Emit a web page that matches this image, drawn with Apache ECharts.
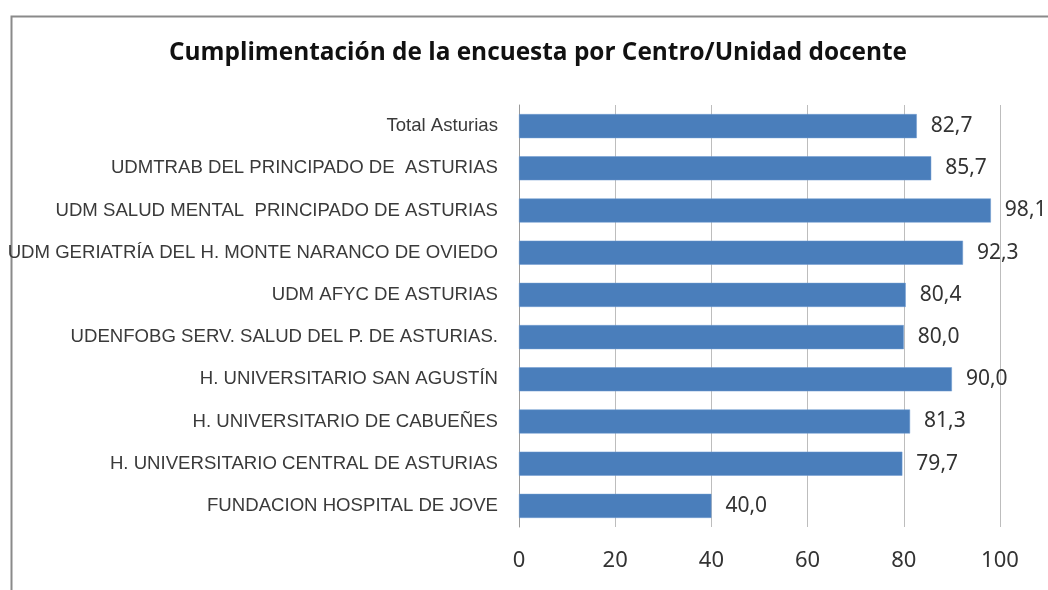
<!DOCTYPE html>
<html><head><meta charset="utf-8">
<script src="https://cdn.jsdelivr.net/npm/echarts@6/dist/echarts.min.js"></script>
<style>html,body{margin:0;padding:0;background:#fff}#c{width:1048px;height:590px}</style>
</head><body><div id="c"></div>
<script>
const titleText = 'Cumplimentación de la encuesta por Centro/Unidad docente';
const categories = [
  'Total Asturias',
  'UDMTRAB DEL PRINCIPADO DE  ASTURIAS',
  'UDM SALUD MENTAL  PRINCIPADO DE ASTURIAS',
  'UDM GERIATRÍA DEL H. MONTE NARANCO DE OVIEDO',
  'UDM AFYC DE ASTURIAS',
  'UDENFOBG SERV. SALUD DEL P. DE ASTURIAS.',
  'H. UNIVERSITARIO SAN AGUSTÍN',
  'H. UNIVERSITARIO DE CABUEÑES',
  'H. UNIVERSITARIO CENTRAL DE ASTURIAS',
  'FUNDACION HOSPITAL DE JOVE'
];
const values = [82.7, 85.7, 98.1, 92.3, 80.4, 80.0, 90.0, 81.3, 79.7, 40.0];

const chart = echarts.init(document.getElementById('c'), null, {renderer: 'canvas'});
chart.setOption({
  animation: false,
  backgroundColor: '#fff',
  graphic: [{
    type: 'rect', left: 9, top: 14, silent: true,
    shape: {width: 1200, height: 1000},
    style: {fill: 'none', stroke: '#8a8a8a', lineWidth: 2}
  }],
  title: {
    text: titleText, left: 164, top: 36,
    textStyle: {fontFamily: 'Open Sans', fontWeight: 'bold', fontSize: 24.4, color: '#111'}
  },
  grid: {left: 519, right: 48, top: 105, bottom: 63, containLabel: false},
  xAxis: {
    type: 'value', min: 0, max: 100, interval: 20,
    axisLine: {show: false}, axisTick: {show: false},
    splitLine: {lineStyle: {color: '#bdbdbd', width: 1}},
    axisLabel: {fontFamily: 'Noto Sans', fontSize: 22, color: '#333', margin: 23}
  },
  yAxis: {
    type: 'category', data: categories, inverse: true,
    axisLine: {lineStyle: {color: '#9a9a9a'}}, axisTick: {show: false},
    axisLabel: {fontFamily: 'Liberation Sans', fontSize: 18.6, color: '#3a3a3a', margin: 21}
  },
  series: [{
    type: 'bar', data: values, barCategoryGap: '43%',
    itemStyle: {color: '#4a7ebb', borderColor: '#6f9bd1', borderWidth: 0.5},
    label: {
      show: true, position: 'right', distance: 14,
      fontFamily: 'Noto Sans', fontSize: 21, color: '#333',
      formatter: p => p.value.toFixed(1).replace('.', ',')
    }
  }]
});
</script></body></html>
